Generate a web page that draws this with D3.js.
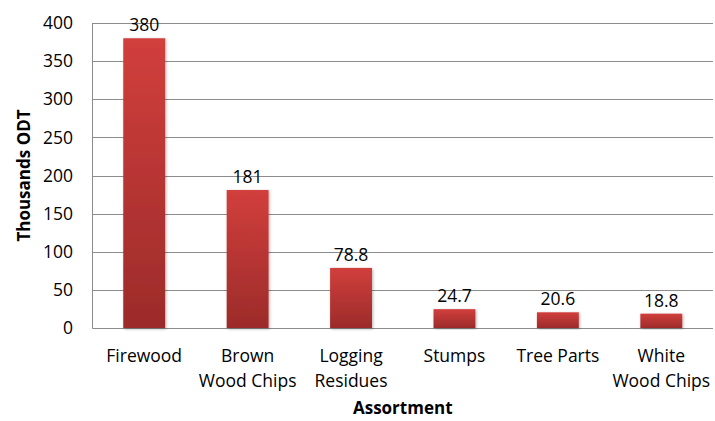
<!DOCTYPE html>
<html>
<head>
<meta charset="utf-8">
<script src="https://cdn.jsdelivr.net/npm/d3@7"></script>
<style>
  body { margin: 0; background: #fff; }
  svg { font-family: "Open Sans", "Liberation Sans", sans-serif; }
</style>
</head>
<body>
<svg id="chart" width="715" height="421"></svg>
<script>
const categories = [["Firewood"], ["Brown", "Wood Chips"], ["Logging", "Residues"], ["Stumps"], ["Tree Parts"], ["White", "Wood Chips"]];
const values = [380, 181, 78.8, 24.7, 20.6, 18.8];
const yTicks = [0, 50, 100, 150, 200, 250, 300, 350, 400];

const svg = d3.select("#chart");
const m = {left: 92.5, right: 713, top: 23, bottom: 328};
const fs = 17.5;

const x = d3.scaleBand().domain(d3.range(values.length)).range([m.left, m.right]).paddingInner(0.595).paddingOuter(0.2975);
const y = d3.scaleLinear().domain([0, 400]).range([m.bottom, m.top]);

const defs = svg.append("defs");
const grad = defs.append("linearGradient").attr("id", "barGrad").attr("x1", 0).attr("y1", 0).attr("x2", 0).attr("y2", 1);
grad.append("stop").attr("offset", "0%").attr("stop-color", "#d13f3c");
grad.append("stop").attr("offset", "100%").attr("stop-color", "#9c2b2a");
const shadow = defs.append("filter").attr("id", "shadow").attr("x", "-20%").attr("y", "-10%").attr("width", "140%").attr("height", "120%");
shadow.append("feDropShadow").attr("dx", 1).attr("dy", 1).attr("stdDeviation", 1.5).attr("flood-color", "#000").attr("flood-opacity", 0.3);

// gridlines
svg.append("g").selectAll("line").data(yTicks).enter().append("line")
  .attr("x1", m.left).attr("x2", m.right)
  .attr("y1", d => Math.round(y(d)) + 0.5).attr("y2", d => Math.round(y(d)) + 0.5)
  .attr("stroke", "#8c8c8c").attr("stroke-width", 1);

// y axis line
svg.append("line").attr("x1", m.left).attr("x2", m.left).attr("y1", m.top).attr("y2", m.bottom + 0.5)
  .attr("stroke", "#8c8c8c");

// tick labels
svg.append("g").selectAll("text").data(yTicks).enter().append("text")
  .attr("x", 73).attr("y", d => y(d)).attr("dy", "0.35em")
  .attr("text-anchor", "end").attr("font-size", fs).attr("fill", "#000")
  .text(d => d);

// bars
svg.append("g").selectAll("rect").data(values).enter().append("rect")
  .attr("x", (d, i) => x(i)).attr("width", x.bandwidth())
  .attr("y", d => y(d)).attr("height", d => y(0) - y(d))
  .attr("fill", "url(#barGrad)").attr("filter", "url(#shadow)");

// value labels
svg.append("g").selectAll("text").data(values).enter().append("text")
  .attr("x", (d, i) => x(i) + x.bandwidth() / 2).attr("y", d => y(d) - 7)
  .attr("text-anchor", "middle").attr("font-size", fs).attr("fill", "#000")
  .text(d => d);

// category labels
const cat = svg.append("g").selectAll("text").data(categories).enter().append("text")
  .attr("x", (d, i) => x(i) + x.bandwidth() / 2).attr("y", 362)
  .attr("text-anchor", "middle").attr("font-size", fs).attr("fill", "#000");
cat.selectAll("tspan").data(d => d).enter().append("tspan")
  .attr("x", function() { return d3.select(this.parentNode).attr("x"); })
  .attr("dy", (d, i) => i === 0 ? 0 : 25)
  .text(d => d);

// axis titles
svg.append("text").attr("x", (m.left + m.right) / 2).attr("y", 414)
  .attr("text-anchor", "middle").attr("font-size", fs - 0.5).attr("font-weight", "bold").text("Assortment");
svg.append("text").attr("transform", `translate(30,${(m.top + m.bottom) / 2}) rotate(-90)`)
  .attr("text-anchor", "middle").attr("font-size", fs - 0.5).attr("font-weight", "bold").text("Thousands ODT");
</script>
</body>
</html>
